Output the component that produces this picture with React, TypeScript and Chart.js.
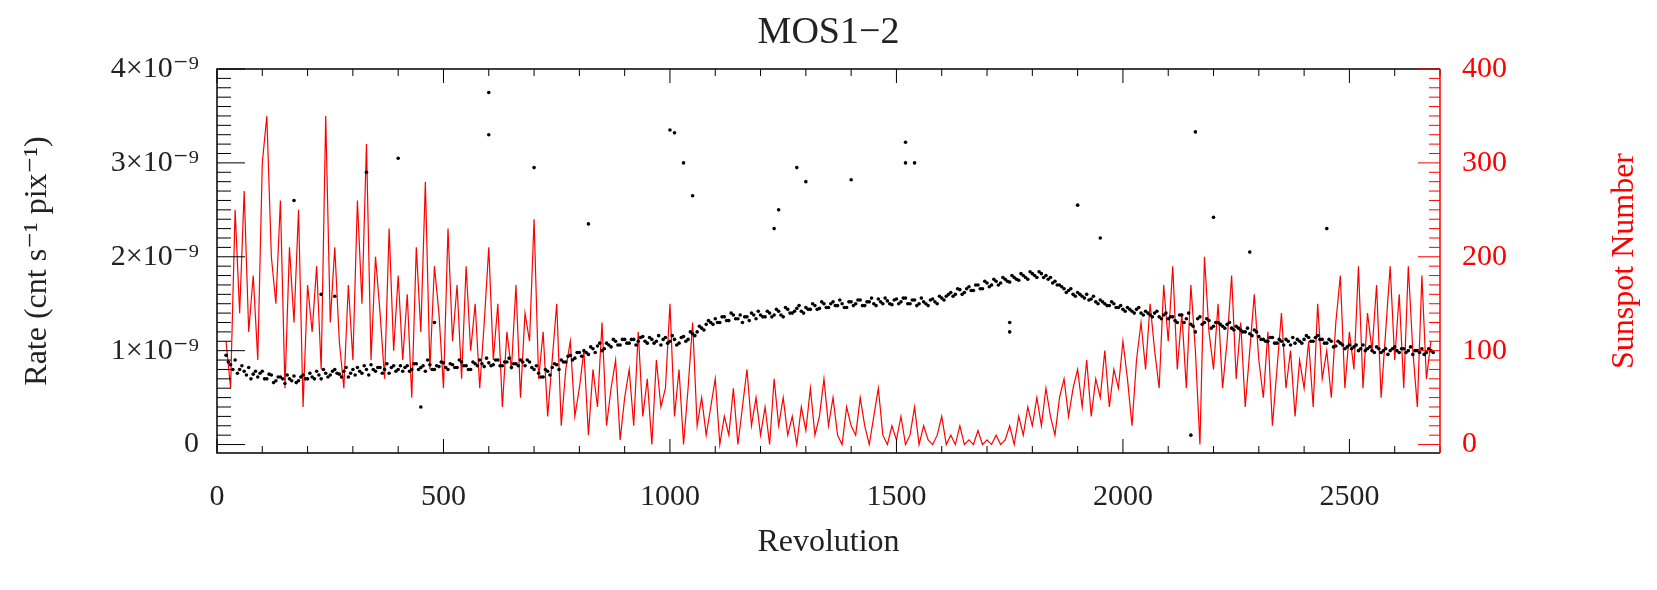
import React, { useEffect, useRef } from "react";
import { Chart, registerables } from "chart.js";
Chart.register(...registerables);

const revStart = 20;
const revStep = 10;
const rateValues = [
0.95,0.85,0.9,0.8,0.78,0.82,0.75,0.72,0.78,
0.7,0.74,0.68,0.72,0.65,0.7,0.73,0.68,0.74,0.7,
0.72,0.78,0.7,0.76,0.74,0.8,0.75,0.78,0.72,0.8,
0.82,0.76,0.8,0.85,0.78,0.82,0.8,0.76,0.84,0.8,
0.78,0.84,0.8,0.86,0.82,0.78,0.85,0.8,0.83,0.87,
0.8,0.85,0.82,0.88,0.84,0.8,0.86,0.9,0.83,0.87,
0.85,0.9,0.84,0.88,0.82,0.86,0.9,0.84,0.88,0.8,
0.76,0.72,0.78,0.82,0.85,0.9,0.88,0.95,0.92,0.98,
1.0,0.96,1.02,1.05,1.0,1.08,1.04,1.1,1.06,1.12,
1.08,1.12,1.1,1.15,1.08,1.12,1.1,1.06,1.14,1.1,
1.12,1.08,1.15,1.12,1.18,1.2,1.24,1.28,1.3,1.34,
1.3,1.36,1.32,1.38,1.34,1.3,1.36,1.4,1.34,1.38,
1.36,1.4,1.38,1.42,1.36,1.44,1.4,1.45,1.42,1.46,
1.44,1.48,1.45,1.5,1.46,1.52,1.48,1.5,1.46,1.52,
1.5,1.54,1.48,1.52,1.5,1.55,1.5,1.53,1.49,1.55,
1.52,1.56,1.5,1.54,1.5,1.52,1.48,1.55,1.5,1.56,
1.58,1.62,1.6,1.65,1.62,1.68,1.64,1.7,1.66,1.72,
1.7,1.74,1.72,1.76,1.73,1.78,1.75,1.8,1.76,1.82,
1.78,1.82,1.8,1.78,1.74,1.7,1.66,1.64,1.6,1.62,
1.58,1.6,1.55,1.52,1.54,1.5,1.48,1.5,1.46,1.44,
1.46,1.42,1.44,1.4,1.42,1.38,1.4,1.36,1.38,1.34,
1.36,1.3,1.38,1.34,1.28,1.2,1.36,1.3,1.32,1.26,
1.3,1.26,1.28,1.24,1.26,1.22,1.2,1.18,1.22,1.15,
1.12,1.1,1.14,1.08,1.1,1.12,1.06,1.08,1.1,1.12,
1.14,1.1,1.16,1.12,1.08,1.1,1.05,1.08,1.02,1.06,
1.04,1.0,1.06,1.02,1.0,1.04,0.98,1.02,1.0,1.04,
0.98,1.02,1.0,0.96,1.0,1.02,0.98,1.0];

// second, interleaved sample (revolutions offset by half a step)
const rateValuesB = [
0.88,0.8,0.76,0.84,0.74,0.7,0.78,0.76,0.7,
0.75,0.66,0.72,0.7,0.74,0.68,0.66,0.72,0.7,0.76,
0.7,0.74,0.8,0.72,0.78,0.76,0.72,0.82,0.76,0.74,
0.78,0.84,0.74,0.8,0.82,0.76,0.86,0.82,0.78,0.84,
0.82,0.78,0.86,0.8,0.84,0.9,0.8,0.84,0.88,0.82,
0.86,0.82,0.9,0.84,0.8,0.88,0.84,0.86,0.92,0.84,
0.9,0.84,0.88,0.92,0.86,0.84,0.88,0.9,0.82,0.84,
0.72,0.8,0.74,0.86,0.8,0.88,0.94,0.9,0.98,0.94,
0.98,1.04,0.98,1.08,1.02,1.06,1.12,1.06,1.12,1.08,
1.12,1.06,1.14,1.1,1.14,1.08,1.16,1.12,1.08,1.16,
1.06,1.14,1.1,1.2,1.16,1.26,1.22,1.32,1.28,1.3,
1.36,1.32,1.4,1.34,1.38,1.36,1.32,1.38,1.42,1.36,
1.42,1.36,1.44,1.38,1.46,1.4,1.42,1.48,1.4,1.44,
1.5,1.44,1.52,1.46,1.5,1.48,1.54,1.46,1.52,1.48,
1.54,1.48,1.52,1.56,1.48,1.52,1.56,1.5,1.54,1.5,
1.56,1.5,1.54,1.48,1.56,1.5,1.54,1.52,1.58,1.54,
1.6,1.58,1.66,1.6,1.66,1.64,1.7,1.66,1.74,1.68,
1.76,1.7,1.78,1.74,1.8,1.76,1.82,1.78,1.84,1.8,
1.84,1.78,1.76,1.72,1.7,1.68,1.62,1.66,1.58,1.6,
1.56,1.54,1.58,1.5,1.52,1.48,1.52,1.46,1.48,1.42,
1.44,1.4,1.46,1.38,1.4,1.36,1.42,1.34,1.4,1.36,
1.32,1.38,1.3,1.4,1.26,1.34,1.28,1.34,1.24,1.3,
1.28,1.24,1.3,1.22,1.24,1.2,1.24,1.16,1.2,1.12,
1.1,1.14,1.08,1.12,1.06,1.1,1.14,1.12,1.08,1.16,
1.1,1.14,1.12,1.08,1.12,1.04,1.1,1.06,1.04,1.02,
1.06,1.02,1.0,1.04,0.98,1.02,1.0,0.96,1.02,1.0,
1.02,0.98,1.04,1.0,0.98,0.96,1.02,0.98];

const outlierRevs = [600,600,700,400,1000,1010,1030,1050,1280,1300,1400,1520,1520,1540,2160,2200,2450,820,230,330,260,480,450,1750,1750,2150,170,1240,1900,2280,1230,1950];
const outlierRates = [3.75,3.3,2.95,3.05,3.35,3.32,3.0,2.65,2.95,2.8,2.82,3.22,3.0,3.0,3.33,2.42,2.3,2.35,1.6,2.9,1.58,1.3,0.4,1.3,1.2,0.1,2.6,2.5,2.55,2.05,2.3,2.2];

const sunspots = [
110,60,250,140,270,120,180,90,300,
350,200,150,260,60,210,130,250,40,170,
120,190,80,350,130,210,110,60,170,90,
260,150,320,90,200,140,70,230,100,180,
90,160,50,210,120,280,80,190,140,60,
230,110,170,70,190,100,150,60,130,210,
90,150,40,120,80,170,50,140,110,240,
70,120,30,90,150,20,80,110,30,60,
100,10,80,40,130,20,60,90,5,50,
80,20,120,30,70,0,90,40,60,150,
30,80,0,60,130,20,50,10,40,70,
0,30,10,60,0,40,80,20,50,10,
40,0,70,20,50,10,30,0,40,15,
60,10,30,70,20,50,10,0,40,20,
10,50,20,0,30,60,10,0,20,5,
30,0,10,40,0,20,5,0,10,30,
0,10,0,20,0,5,0,15,0,5,
0,10,0,5,20,0,30,10,40,20,
50,20,60,30,10,50,70,30,60,80,
40,90,30,70,50,100,40,80,60,110,
70,20,90,130,80,150,100,60,170,110,
190,80,140,60,170,100,0,200,120,80,
150,60,110,180,70,130,40,100,160,90,
50,120,20,80,140,60,100,30,90,60,
110,40,150,70,100,50,130,180,60,120,
80,190,60,140,100,170,50,120,190,90,
160,60,190,100,40,180,70,110];

const xTicks = [0, 500, 1000, 1500, 2000, 2500];
const rateTicks = [0, 1, 2, 3, 4];
const sunTicks = [0, 100, 200, 300, 400];

const FONT = "'Liberation Serif', 'DejaVu Serif', serif";
const TXT = "#222";

const decor = {
  id: "decor",
  afterDraw(chart: any) {
    const { ctx, chartArea: a, scales } = chart;
    const x = scales.x, yl = scales.y, yr = scales.y1;
    ctx.save();
    ctx.lineWidth = 1.5;
    ctx.strokeStyle = "#000";
    ctx.beginPath();
    ctx.moveTo(a.right, a.top); ctx.lineTo(a.left, a.top); ctx.lineTo(a.left, a.bottom); ctx.lineTo(a.right, a.bottom);
    ctx.stroke();
    ctx.lineWidth = 1;
    for (let v = 0; v <= 2700; v += 100) {
      const p = x.getPixelForValue(v);
      const L = v % 500 === 0 ? 14 : 7;
      ctx.beginPath();
      ctx.moveTo(p, a.bottom); ctx.lineTo(p, a.bottom - L);
      ctx.moveTo(p, a.top); ctx.lineTo(p, a.top + L);
      ctx.stroke();
    }
    for (let i = 0; i <= 40; i++) {
      const p = yl.getPixelForValue(i / 10);
      const L = i % 10 === 0 ? 28 : 14;
      ctx.beginPath(); ctx.moveTo(a.left, p); ctx.lineTo(a.left + L, p); ctx.stroke();
    }
    ctx.strokeStyle = "#ff0000";
    ctx.lineWidth = 1.5;
    ctx.beginPath(); ctx.moveTo(a.right, a.top); ctx.lineTo(a.right, a.bottom); ctx.stroke();
    ctx.lineWidth = 1;
    for (let v = 0; v <= 400; v += 10) {
      const p = yr.getPixelForValue(v);
      const L = v % 100 === 0 ? 22 : 11;
      ctx.beginPath(); ctx.moveTo(a.right, p); ctx.lineTo(a.right - L, p); ctx.stroke();
    }
    ctx.textAlign = "center";
    ctx.textBaseline = "middle";
    ctx.fillStyle = TXT;
    ctx.font = `38px ${FONT}`;
    ctx.fillText("MOS1\u22122", (a.left + a.right) / 2, 33);
    ctx.font = `32px ${FONT}`;
    ctx.fillText("Revolution", (a.left + a.right) / 2, 543);
    ctx.save();
    ctx.translate(38, (a.top + a.bottom) / 2);
    ctx.rotate(-Math.PI / 2);
    ctx.fillText("Rate (cnt s\u207b\u00b9 pix\u207b\u00b9)", 0, 0);
    ctx.restore();
    ctx.save();
    ctx.fillStyle = "#ff0000";
    ctx.translate(1625, (a.top + a.bottom) / 2);
    ctx.rotate(-Math.PI / 2);
    ctx.fillText("Sunspot Number", 0, 0);
    ctx.restore();
    ctx.restore();
  },
};

export default function App() {
  const ref = useRef<HTMLCanvasElement>(null);
  useEffect(() => {
    document.body.style.margin = "0";
    const revs = sunspots.map((_, i) => revStart + i * revStep);
    const pts = revs.map((r, i) => ({ x: r, y: rateValues[i] }))
      .concat(revs.map((r, i) => ({ x: r + revStep / 2, y: rateValuesB[i] })))
      .concat(outlierRevs.map((r, i) => ({ x: r, y: outlierRates[i] })));
    const chart = new Chart(ref.current!, {
      type: "scatter",
      data: {
        datasets: [
          {
            type: "line",
            label: "Sunspot",
            data: revs.map((r, i) => ({ x: r, y: sunspots[i] })),
            yAxisID: "y1",
            borderColor: "#ff0000",
            borderWidth: 1.2,
            pointRadius: 0,
            order: 2,
          },
          {
            label: "Rate",
            data: pts,
            yAxisID: "y",
            backgroundColor: "#000",
            borderColor: "#000",
            pointRadius: 1.8,
            pointBorderWidth: 0,
            order: 1,
          },
        ],
      },
      options: {
        animation: false,
        responsive: false,
        layout: { padding: { top: 69, left: 0, right: 0, bottom: 0 } },
        plugins: { legend: { display: false }, tooltip: { enabled: false } },
        scales: {
          x: {
            type: "linear", min: 0, max: 2700,
            afterBuildTicks: (s: any) => { s.ticks = xTicks.map((v) => ({ value: v })); },
            afterFit: (s: any) => { s.height = 137; },
            grid: { display: false }, border: { display: false },
            ticks: { color: TXT, font: { size: 30, family: FONT }, padding: 18, maxRotation: 0, callback: (v: any) => String(v) },
          },
          y: {
            position: "left", min: -0.09, max: 4,
            afterBuildTicks: (s: any) => { s.ticks = rateTicks.map((v) => ({ value: v })); },
            afterFit: (s: any) => { s.width = 217; },
            grid: { display: false }, border: { display: false },
            ticks: { color: TXT, font: { size: 30, family: FONT }, padding: 10,
              callback: (v: any) => (v === 0 ? "0" : `${v}\u00d710\u207b\u2079`) },
          },
          y1: {
            position: "right", min: -9, max: 400,
            afterBuildTicks: (s: any) => { s.ticks = sunTicks.map((v) => ({ value: v })); },
            afterFit: (s: any) => { s.width = 217; },
            grid: { display: false }, border: { display: false },
            ticks: { color: "#ff0000", font: { size: 30, family: FONT }, padding: 14 },
          },
        },
      },
      plugins: [decor],
    } as any);
    return () => chart.destroy();
  }, []);
  return <canvas ref={ref} width={1657} height={590} style={{ display: "block" }} />;
}
